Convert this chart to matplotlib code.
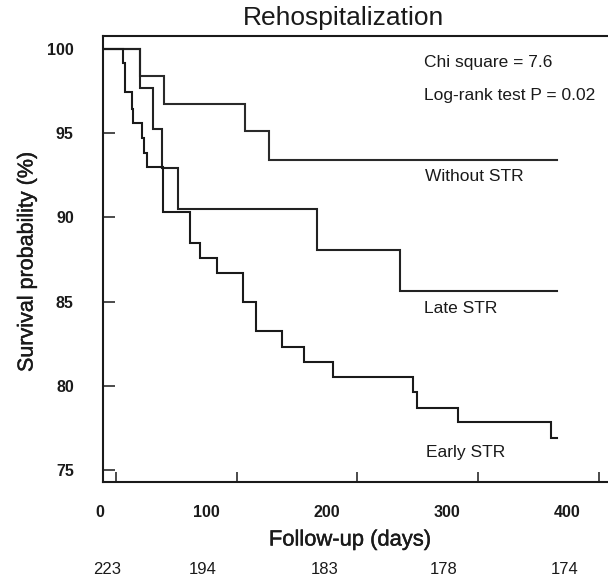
import numpy as np
import matplotlib
matplotlib.use("Agg")
import matplotlib.pyplot as plt
import matplotlib.transforms as mtransforms
import matplotlib.patheffects as pe

plt.rcParams['font.family'] = ['Liberation Sans', 'DejaVu Sans']

# Kaplan-Meier step data (event day, survival % after the event)
without_days = [19.9, 40.0, 106.8, 126.7]
without_surv = [98.4, 96.7, 95.1, 93.4]

late_days = [19.9, 30.4, 38.3, 51.1, 166.2, 235.2]
late_surv = [97.65, 95.24, 92.91, 90.47, 88.06, 85.62]

early_days = [5.5, 7.5, 13.0, 14.3, 21.8, 23.2, 25.9, 38.9, 61.3, 69.6,
              83.4, 105.4, 115.9, 137.7, 155.7, 179.5, 246.2, 249.0, 283.0, 360.0]
early_surv = [99.14, 97.42, 96.42, 95.58, 94.69, 93.80, 92.96, 90.33, 88.49, 87.60,
              86.71, 84.99, 83.25, 82.32, 81.39, 80.54, 79.61, 78.70, 77.87, 76.92]

follow_up_end = 365

x_ticks = [0, 100, 200, 300, 400]
x_tick_labels = ["0", "100", "200", "300", "400"]
x_label_pos = [-13.8, 75.0, 174.6, 273.8, 373.8]
y_ticks = [75, 80, 85, 90, 95, 100]
at_risk = ["223", "194", "183", "178", "174"]
at_risk_pos = [-7.6, 72.1, 173.1, 271.0, 371.9]

X_LEFT, X_RIGHT = -10.8, 407.5
Y_BOTTOM, Y_TOP = 74.27, 100.79

W, H = 608, 581
fig = plt.figure(figsize=(W / 100, H / 100), dpi=100)
ax = fig.add_axes([103 / W, 1 - 482.3 / H, 1 - 103 / W, (482.3 - 35.5) / H])

ink = '#1a1a1a'
heavy = [pe.withStroke(linewidth=0.3, foreground=ink)]


def km(days, surv):
    t = np.r_[X_LEFT, days, follow_up_end]
    s = np.r_[100.0, surv, surv[-1]]
    return t, s


for days, surv, col in [(without_days, without_surv, '#2a2a2a'),
                        (late_days, late_surv, '#222222'),
                        (early_days, early_surv, ink)]:
    t, s = km(days, surv)
    ax.step(t, s, where='post', color=col, lw=1.5, solid_joinstyle='miter')

ax.set_xlim(X_LEFT, X_RIGHT)
ax.set_ylim(Y_BOTTOM, Y_TOP)

ax.spines['right'].set_visible(False)
for side in ['left', 'top', 'bottom']:
    ax.spines[side].set_linewidth(1.5)
    ax.spines[side].set_color(ink)

ax.set_yticks(y_ticks)
ax.set_yticklabels([str(v) for v in y_ticks], fontsize=11.5, fontweight='bold', color=ink)
ax.tick_params(axis='y', direction='in', length=8.6, width=1.1, pad=21, color=ink)

ax.set_xticks(x_ticks)
ax.set_xticklabels([])
ax.tick_params(axis='x', direction='in', length=7, width=1.1, color=ink)

trans = mtransforms.blended_transform_factory(ax.transData, ax.transAxes)
for pos, lab in zip(x_label_pos, x_tick_labels):
    ax.text(pos, -0.068, lab, transform=trans, ha='center', va='center',
            fontsize=11.5, fontweight='bold', color=ink)
for pos, lab in zip(at_risk_pos, at_risk):
    ax.text(pos, -0.196, lab, transform=trans, ha='center', va='center',
            fontsize=12, color=ink)

fig.text(343.5 / W, 1 - 18 / H, "Rehospitalization", ha='center', va='center',
         fontsize=19, color=ink)
fig.text(350 / W, 1 - 540 / H, "Follow-up (days)", ha='center', va='center',
         fontsize=15.8, color=ink, path_effects=heavy)
fig.text(27 / W, 1 - 262 / H, "Survival probability (%)", ha='center', va='center',
         rotation=90, fontsize=15.5, color=ink, path_effects=heavy)

fig.text(424 / W, 1 - 62.7 / H, "Chi square = 7.6", ha='left', va='center',
         fontsize=12.5, color=ink)
fig.text(424 / W, 1 - 95 / H, "Log-rank test P = 0.02", ha='left', va='center',
         fontsize=12.5, color=ink)

fig.text(425 / W, 1 - 176 / H, "Without STR", ha='left', va='center', fontsize=12.5, color=ink)
fig.text(424 / W, 1 - 308.5 / H, "Late STR", ha='left', va='center', fontsize=12.5, color=ink)
fig.text(426 / W, 1 - 452.7 / H, "Early STR", ha='left', va='center', fontsize=12.5, color=ink)

fig.savefig("out.png", dpi=100)
